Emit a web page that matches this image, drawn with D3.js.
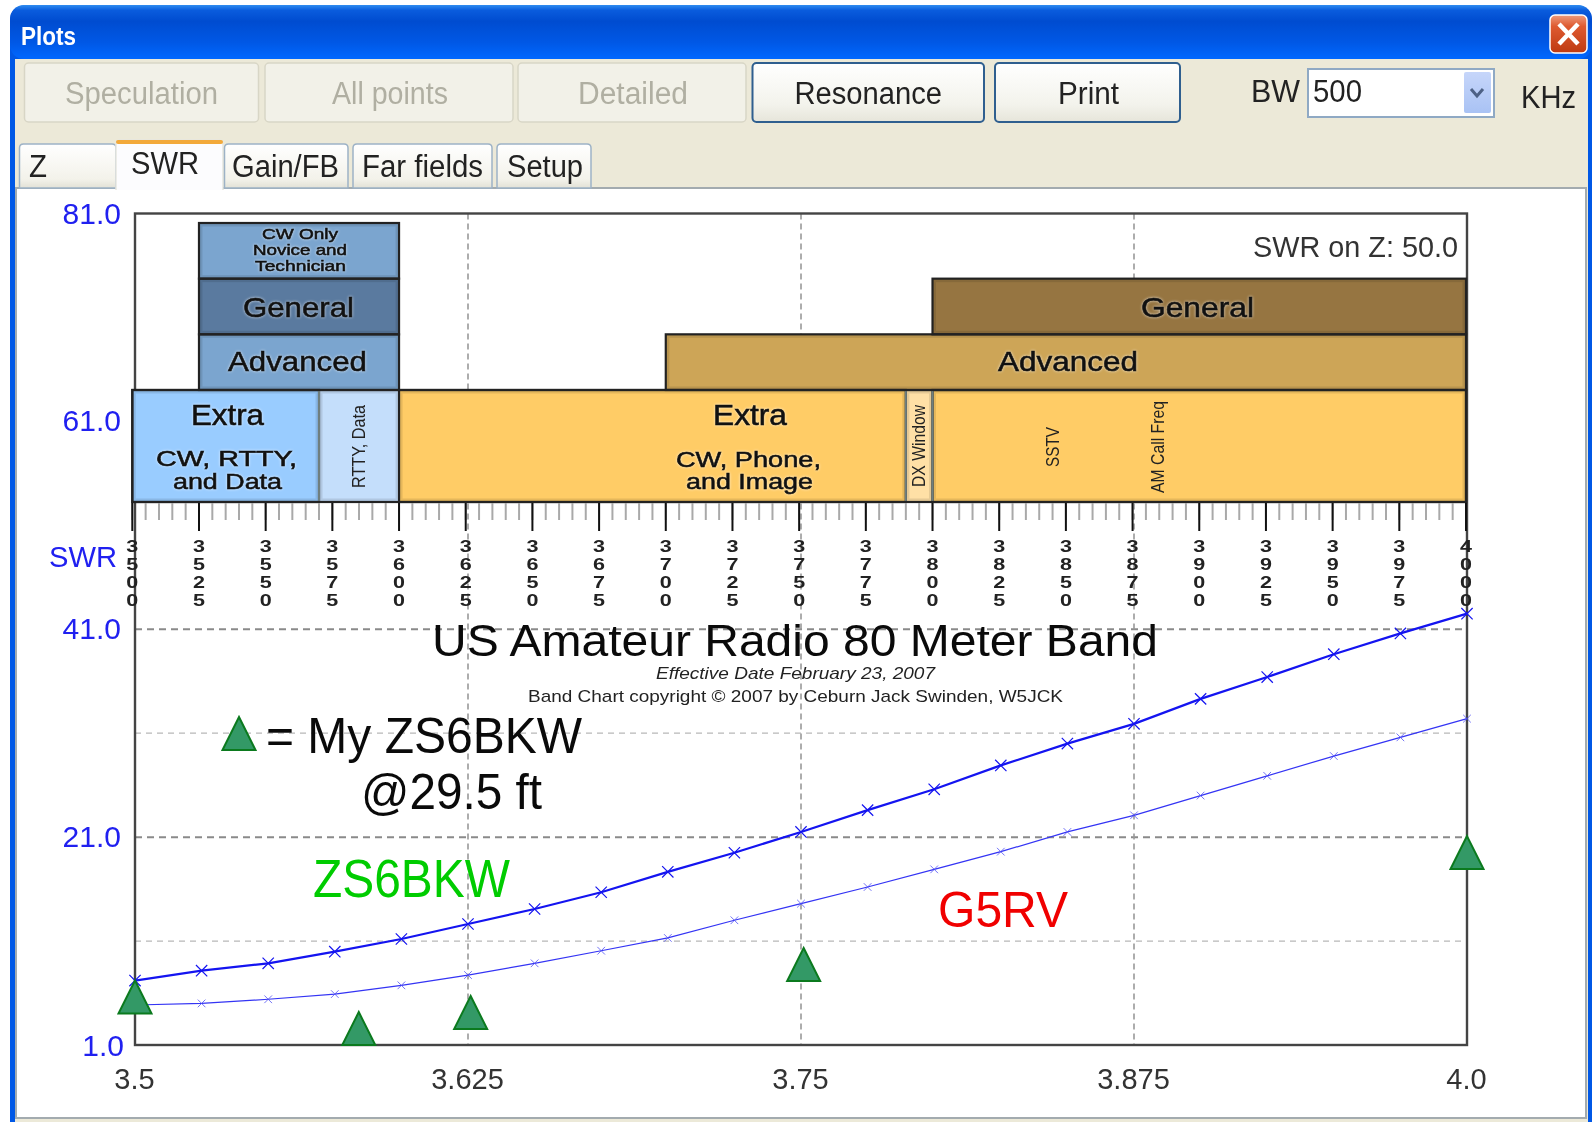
<!DOCTYPE html>
<html><head><meta charset="utf-8">
<script src="https://cdnjs.cloudflare.com/ajax/libs/d3/7.8.5/d3.min.js"></script>
<style>
html,body{margin:0;padding:0;background:#fff;overflow:hidden}
svg{display:block;filter:blur(0.6px)}
text{font-family:"Liberation Sans",Arial,sans-serif}
</style></head><body>
<svg id="c" width="1595" height="1122"></svg>
<script>
// ---------- data ----------
const freqMHz = [3.5,3.525,3.55,3.575,3.6,3.625,3.65,3.675,3.7,3.725,3.75,3.775,3.8,3.825,3.85,3.875,3.9,3.925,3.95,3.975,4.0];
const swrZS6BKW = [7.2,8.15,8.86,9.98,11.2,12.64,14.08,15.7,17.66,19.5,21.5,23.6,25.6,27.9,30.0,31.9,34.3,36.4,38.6,40.6,42.5];
const swrG5RV = [4.85,5.0,5.4,5.9,6.74,7.73,8.86,10.07,11.3,13.0,14.6,16.2,17.9,19.6,21.5,23.1,25.0,26.9,28.8,30.6,32.4];
const measuredFreq = [3.5,3.584,3.626,3.751,4.0];
const measuredSwr = [7.2,4.17,5.71,10.33,21.1];
const yTicks = [1,21,41,61,81];
const yGridLines = [11,21,31,41];
const xTicks = [3.5,3.625,3.75,3.875,4.0];
const xTickLabels = ["3.5","3.625","3.75","3.875","4.0"];
const bandTickMajor = d3.range(3500,4001,25);
const bandTickMinor = d3.range(3500,4001,5);
const bandStart = [3500,3570,3600,3790,3800,3525,3525,3525,3700,3800];
const bandEnd   = [3570,3600,3790,3800,4000,3600,3600,3600,4000,4000];
const bandTier  = [0,0,0,0,0,1,2,3,1,2];
const bandKind  = ["extraCW","rtty","extraPhone","dx","extraPhone","advCW","genCW","novice","advPhone","genPhone"];
const buttonNames = ["Speculation","All points","Detailed","Resonance","Print"];
const tabNames = ["Z","SWR","Gain/FB","Far fields","Setup"];

// ---------- scales ----------
const svg = d3.select("#c");
const x = d3.scaleLinear().domain([3.5,4.0]).range([135,1467]);
const y = d3.scaleLinear().domain([1,81]).range([1045,213.5]);
const bx = d3.scaleLinear().domain([3500,4000]).range([132.3,1466]);
const tierTop = d3.scaleLinear().domain([0,3]).range([390,223]);
const kindFill = d3.scaleOrdinal()
  .domain(["extraCW","rtty","extraPhone","dx","advCW","genCW","novice","advPhone","genPhone"])
  .range(["#99CCFF","#C4DEFB","#FFCC66","#FFE0A6","#7BA5CF","#5A7A9F","#7BA5CF","#CDA557","#967541"]);

const defs = svg.append("defs");
function grad(id,stops){const g=defs.append("linearGradient").attr("id",id).attr("x1",0).attr("y1",0).attr("x2",0).attr("y2",1);
  stops.forEach(s=>g.append("stop").attr("offset",s[0]).attr("stop-color",s[1]));}
grad("title",[[0,"#2F8CF0"],[0.1,"#0A5CDD"],[0.3,"#004CD0"],[0.7,"#0058E6"],[1,"#0068FF"]]);
grad("btn",[[0,"#FFFFFF"],[0.7,"#F3F3EC"],[1,"#E6E5DA"]]);
grad("tab",[[0,"#FFFFFF"],[0.8,"#F3F2EA"],[1,"#E2E1D6"]]);
grad("drop",[[0,"#C6D6FA"],[1,"#A9C2F4"]]);
grad("close",[[0,"#EE9A7C"],[0.3,"#DE5A30"],[1,"#BE3A12"]]);

function fit(s,x0,x1,cy,size,opt={}){
  const t=svg.append("text").text(s).attr("x",x0).attr("y",cy).attr("dy","0.36em")
    .attr("font-size",size).attr("fill",opt.fill||"#111")
    .attr("textLength",x1-x0).attr("lengthAdjust","spacingAndGlyphs");
  if(opt.weight)t.attr("font-weight",opt.weight);
  if(opt.italic)t.attr("font-style","italic");
  if(opt.glow)t.attr("stroke","#111").attr("stroke-width",0.55)
    .style("filter","drop-shadow(0 0 1.5px rgba(255,255,255,0.75))");
  return t;
}
function vert(s,cx,y0,y1,size){
  svg.append("text").text(s).attr("transform",`translate(${cx},${y1}) rotate(-90)`).attr("dy","0.36em")
    .attr("font-size",size).attr("fill","#222")
    .attr("textLength",y1-y0).attr("lengthAdjust","spacingAndGlyphs");
}

// ---------- window chrome ----------
svg.append("path").attr("d","M10,1122V22Q10,5 28,5H1574Q1592,5 1592,22V1122Z").attr("fill","#0058E6");
svg.append("rect").attr("x",10).attr("y",5).attr("width",1582).attr("height",54).attr("fill","url(#title)").attr("rx",14);
svg.append("rect").attr("x",15).attr("y",59).attr("width",1573).attr("height",1063).attr("fill","#ECE9D8");
fit("Plots",21,76,36,25,{fill:"#fff",weight:"bold"});
svg.append("rect").attr("x",1550).attr("y",15).attr("width",37).attr("height",38).attr("rx",5).attr("fill","url(#close)").attr("stroke","#fff").attr("stroke-width",1.5);
svg.append("path").attr("d","M1559,24L1578,44M1578,24L1559,44").attr("stroke","#fff").attr("stroke-width",4.5);

const btnX0=[24.5,265,518,752.5,995], btnX1=[258.5,513,746,984,1180];
const btnTx0=[65,332,578,794.5,1058], btnTx1=[218,448,688,942,1119];
buttonNames.forEach((n,i)=>{
  const off=i<3;
  svg.append("rect").attr("x",btnX0[i]).attr("y",63).attr("width",btnX1[i]-btnX0[i]).attr("height",59).attr("rx",4)
    .attr("fill",off?"#F2F1E8":"url(#btn)").attr("stroke",off?"#D8D6C6":"#2F5F8F").attr("stroke-width",off?1.5:2);
  fit(n,btnTx0[i],btnTx1[i],93,31,{fill:off?"#B0AFA2":"#222"});
});
fit("BW",1251,1300,91,31,{fill:"#222"});
svg.append("rect").attr("x",1308).attr("y",69).attr("width",186).attr("height",48).attr("fill","#fff").attr("stroke","#8FA9C4").attr("stroke-width",2);
fit("500",1313,1362,91,31,{fill:"#222"});
svg.append("rect").attr("x",1464).attr("y",72).attr("width",27).attr("height",41).attr("rx",2).attr("fill","url(#drop)");
svg.append("path").attr("d","M1471,89L1477,96L1483,89").attr("fill","none").attr("stroke","#4D6185").attr("stroke-width",3);
fit("KHz",1521,1576,97,31,{fill:"#222"});

// panel
svg.append("rect").attr("x",16).attr("y",188).attr("width",1570).attr("height",930).attr("fill","#fff").attr("stroke","#A3ABAF").attr("stroke-width",2);

const tabX0=[19.5,116,224.5,353,497], tabX1=[116,223,348,492,591];
const tabTx0=[29,131,232,362,507], tabTx1=[47,199,339,483,583];
tabNames.forEach((n,i)=>{
  const on=i===1, top=on?140:144;
  svg.append("path").attr("d",`M${tabX0[i]},${on?190:188}V${top+4}Q${tabX0[i]},${top} ${tabX0[i]+4},${top}H${tabX1[i]-4}Q${tabX1[i]},${top} ${tabX1[i]},${top+4}V${on?190:188}${on?"":"Z"}`)
    .attr("fill",on?"#FCFCFE":"url(#tab)").attr("stroke",on?"#E6E6E0":"#9DB2C6").attr("stroke-width",1.5);
  if(on)svg.append("rect").attr("x",tabX0[i]).attr("y",top).attr("width",tabX1[i]-tabX0[i]).attr("height",4).attr("fill","#F2A93A").attr("rx",2);
  fit(n,tabTx0[i],tabTx1[i],on?163:166,31,{fill:"#222"});
});

// ---------- grid + frame ----------
const grid = svg.append("g").attr("fill","none").attr("stroke","#8a8a8a");
grid.selectAll("line.h").data(yGridLines).join("line")
  .attr("x1",x(3.5)).attr("x2",x(4)).attr("y1",d=>y(d)).attr("y2",d=>y(d))
  .attr("stroke",d=>d%20===1?"#8a8a8a":"#b8b8b8")
  .attr("stroke-width",d=>d%20===1?2:1.2).attr("stroke-dasharray",d=>d%20===1?"7 5":"6 5");
grid.selectAll("line.v").data(xTicks.slice(1,4)).join("line")
  .attr("x1",d=>x(d)).attr("x2",d=>x(d)).attr("y1",y(81)).attr("y2",y(1))
  .attr("stroke","#999").attr("stroke-width",1.6).attr("stroke-dasharray","6 4");
svg.append("rect").attr("x",x(3.5)).attr("y",y(81)).attr("width",x(4)-x(3.5)).attr("height",y(1)-y(81))
  .attr("fill","none").attr("stroke","#444").attr("stroke-width",2.4);

// ---------- band chart ----------
const bandG = svg.append("g");
const bands = bandStart.map((s,i)=>({s,e:bandEnd[i],t:bandTier[i],k:bandKind[i]}));
const topOf=d=>d.t===0?tierTop(0):tierTop(d.t);
const botOf=d=>d.t===0?502:tierTop(d.t-1);
bandG.selectAll("rect.b").data(bands).join("rect")
  .attr("x",d=>bx(d.s)).attr("width",d=>bx(d.e)-bx(d.s)).attr("y",topOf).attr("height",d=>botOf(d)-topOf(d))
  .attr("fill",d=>kindFill(d.k));
// bevel
bandG.selectAll("rect.i").data(bands).join("rect")
  .attr("x",d=>bx(d.s)+2).attr("width",d=>bx(d.e)-bx(d.s)-4).attr("y",d=>topOf(d)+2).attr("height",d=>botOf(d)-topOf(d)-4)
  .attr("fill","none").attr("stroke","rgba(0,0,0,0.10)").attr("stroke-width",3);
bandG.selectAll("rect.o").data(bands.filter(d=>d.k!=="rtty"&&d.k!=="dx")).join("rect")
  .attr("x",d=>bx(d.s)).attr("width",d=>bx(d.e)-bx(d.s)).attr("y",topOf).attr("height",d=>botOf(d)-topOf(d))
  .attr("fill","none").attr("stroke","#222").attr("stroke-width",2.2);
bandG.selectAll("line.sep").data([3570,3790,3800]).join("line")
  .attr("x1",d=>bx(d)).attr("x2",d=>bx(d)).attr("y1",tierTop(0)).attr("y2",502)
  .attr("stroke","#6f7f7f").attr("stroke-width",2);
// outer border for extra row
bandG.append("rect").attr("x",bx(3500)).attr("y",tierTop(0)).attr("width",bx(4000)-bx(3500)).attr("height",502-tierTop(0))
  .attr("fill","none").attr("stroke","#222").attr("stroke-width",2.2);

// band ticks
const tg = svg.append("g");
tg.selectAll("line.m").data(bandTickMinor).join("line")
  .attr("x1",d=>bx(d)).attr("x2",d=>bx(d)).attr("y1",503).attr("y2",520)
  .attr("stroke","#a9a9a9").attr("stroke-width",2);
tg.selectAll("line.M").data(bandTickMajor).join("line")
  .attr("x1",d=>bx(d)).attr("x2",d=>bx(d)).attr("y1",503).attr("y2",531)
  .attr("stroke","#111").attr("stroke-width",2);
const lab = tg.selectAll("g.l").data(bandTickMajor).join("g").attr("transform",d=>`translate(${bx(d)},0)`);
lab.selectAll("text").data(d=>String(d).split("").map((c,i)=>({c,i}))).join("text")
  .text(d=>d.c).attr("y",d=>546+d.i*17.8).attr("dy","0.36em").attr("text-anchor","middle")
  .attr("font-size",17).attr("font-weight","bold").attr("fill","#222")
  .attr("textLength",12).attr("lengthAdjust","spacingAndGlyphs");

// band text
const g1={glow:true,fill:"#111"};
fit("CW Only",262,338,234,15,g1);
fit("Novice and",253,347,250,15,g1);
fit("Technician",255,346,266,15,g1);
fit("General",243,354,307,28,g1);
fit("Advanced",228,367,361,28,g1);
fit("Extra",191,264,415,29,g1);
fit("CW, RTTY,",156,297,458,22,g1);
fit("and Data",173,282,481,22,g1);
fit("General",1141,1254,307,28,g1);
fit("Advanced",998,1138,361,28,g1);
fit("Extra",713,787,415,29,g1);
fit("CW, Phone,",676,821,459,22,g1);
fit("and Image",686,813,481,22,g1);
vert("RTTY, Data",358,405,488,19);
vert("DX Window",918,405,487,19);
vert("SSTV",1052,427,467,19);
vert("AM Call Freq",1157,401,493,19);

// ---------- axes ----------
const yAxis = d3.axisLeft(y).tickValues(yTicks).tickFormat(d3.format(".1f")).tickSize(0).tickPadding(0);
const yg = svg.append("g").attr("transform","translate(121,0)").call(yAxis);
yg.select(".domain").remove();
yg.selectAll("text").attr("font-size",30).attr("fill","#2020F0").attr("font-family","Liberation Sans");
yg.selectAll(".tick").filter(d=>d===1).select("text").attr("dx",3).attr("dy","0.36em");
fit("SWR",49,117,557,29,{fill:"#2020F0"});
const xAxis = d3.axisBottom(x).tickValues(xTicks).tickFormat((d,i)=>xTickLabels[i]).tickSize(0).tickPadding(0);
const xg = svg.append("g").attr("transform","translate(-1,1079)").call(xAxis);
xg.select(".domain").remove();
xg.selectAll("text").attr("font-size",29).attr("fill","#333").attr("dy","0.36em").attr("y",0).attr("font-family","Liberation Sans");
svg.append("text").text("SWR on Z: 50.0").attr("x",1458).attr("y",246).attr("dy","0.36em").attr("text-anchor","end")
  .attr("font-size",30).attr("fill","#333").attr("textLength",205).attr("lengthAdjust","spacingAndGlyphs");

// ---------- overlay text ----------
fit("US Amateur Radio 80 Meter Band",432,1158,640,44,{fill:"#0a0a0a"});
fit("Effective Date February 23, 2007",656,935,673.5,16.5,{italic:true,fill:"#222"});
fit("Band Chart copyright © 2007 by Ceburn Jack Swinden, W5JCK",528,1063,696,17,{fill:"#222"});
fit("= My ZS6BKW",266,582,734.5,50,{fill:"#0a0a0a"});
fit("@29.5 ft",361,542,791,50,{fill:"#0a0a0a"});
fit("ZS6BKW",313,510,878,54,{fill:"#00CC00"});
fit("G5RV",938,1068,909,50,{fill:"#F00000"});

// ---------- curves ----------
const line=(vals)=>d3.line().x((d,i)=>x(freqMHz[i])).y(d=>y(d))(vals);
svg.append("path").attr("d",line(swrZS6BKW)).attr("fill","none").attr("stroke","#1414F0").attr("stroke-width",2.2);
svg.append("path").attr("d",line(swrG5RV)).attr("fill","none").attr("stroke","#3434F4").attr("stroke-width",1.2);
const sym=d3.symbol().type(d3.symbolTimes);
svg.append("g").selectAll("path").data(swrZS6BKW).join("path")
  .attr("transform",(d,i)=>`translate(${x(freqMHz[i])},${y(d)})`).attr("d",sym.size(85)())
  .attr("fill","none").attr("stroke","#1414F0").attr("stroke-width",1.2);
svg.append("g").selectAll("path").data(swrG5RV).join("path")
  .attr("transform",(d,i)=>`translate(${x(freqMHz[i])},${y(d)})`).attr("d",sym.size(40)())
  .attr("fill","none").attr("stroke","#5050F4").attr("stroke-width",0.8);

// ---------- measured triangles ----------
const tri="M0,0L16.5,33L-16.5,33Z";
svg.append("g").selectAll("path").data(measuredSwr).join("path")
  .attr("transform",(d,i)=>`translate(${x(measuredFreq[i])},${y(d)})`)
  .attr("d",tri).attr("fill","#339966").attr("stroke","#0B7A1E").attr("stroke-width",2);
svg.append("path").attr("transform","translate(239,717)").attr("d",tri).attr("fill","#339966").attr("stroke","#0B7A1E").attr("stroke-width",2);
</script></body></html>
